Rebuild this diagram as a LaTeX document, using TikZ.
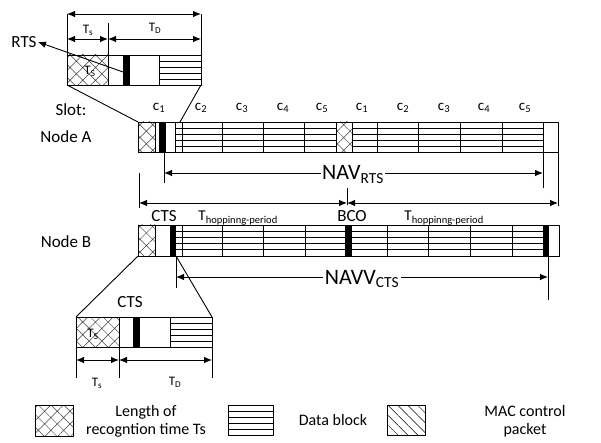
\documentclass[tikz,border=0pt]{standalone}
\usepackage{fontspec}
\setmainfont{Carlito}
\usetikzlibrary{arrows.meta,patterns.meta}
% four stripes of a data block: x1, x2, ytop, ybot
\newcommand\datastripes[4]{%
  \foreach \k in {1,...,4}
    \draw ({#1},{#3+\k*(#4-#3)/5}) -- ({#2},{#3+\k*(#4-#3)/5});}
\begin{document}
\begin{tikzpicture}[x=1pt,y=-1pt,>={Latex[length=8pt,width=6.5pt]},line width=0.9pt,line join=round,
  lab/.style={font=\fontsize{17}{19}\selectfont,inner sep=1pt},
  navlab/.style={font=\fontsize{22}{24}\selectfont,inner sep=1pt},
  slotlab/.style={font=\fontsize{15}{17}\selectfont,inner sep=0pt},
  dimlab/.style={font=\fontsize{13}{15}\selectfont,inner sep=0pt},
  keylab/.style={font=\fontsize{16}{18}\selectfont,align=center,inner sep=0pt},
  hatched/.style={pattern={Hatch[angle=45,distance=9pt,line width=0.5pt]},pattern color=black!75},
  maclines/.style={pattern={Lines[angle=-45,distance=7pt,line width=0.5pt]}}]
	\useasboundingbox (0,0) rectangle (601,443);
	% RTS inset
	\draw[hatched] (67,55) rectangle (108,85);
	\fill (123,55) rectangle (130,85);
	\datastripes{159}{201}{55}{85}
	\draw (67,55) rectangle (201,85);
	\draw (108,55)--(108,85) (159,55)--(159,85);
	\draw (67,85)--(67,14) (201,85)--(201,14) (108,55)--(108,23);
	\draw[<->] (67,14)--(201,14);
	\draw[<->] (67,39)--(108,39);
	\draw[<->] (108,39)--(201,39);
	\node[dimlab] (tsa) at (88,30) {T\textsubscript{s}};
	\node[dimlab] (tda) at (155,28) {T\textsubscript{D}};
	\node[dimlab] (tsin) at (90,71) {T\textsubscript{S}};
	\node[lab] (rts) at (24,42) {RTS};
	\coordinate (rtsfoot) at (123,72);
	\draw[->] (rtsfoot)--(rts.east);
	\draw (67,85)--(138,122) (201,85)--(180,122);
	% slots
	\node[lab] (slot) at (71,110) {Slot:};
	\foreach \x/\c [count=\i] in {159/1,201/2,242/3,283/4,322/5,362/1,403/2,444/3,484/4,525/5}
		\node[slotlab] (c\i) at (\x,108) {c\textsubscript{\c}};
	% node A
	\node[lab] (nodeA) at (66,137) {Node A};
	\draw[hatched] (138,122) rectangle (155,152);
	\fill (159,122) rectangle (166,152);
	\datastripes{175}{336}{122}{152}
	\draw[hatched] (336,122) rectangle (352,152);
	\datastripes{352}{543}{122}{152}
	\foreach \x in {155,175,182,222,263,304,377,418,460,502,543}
		\draw (\x,122)--(\x,152);
	\draw (138,122) rectangle (558,152);
	% NAV of RTS
	\draw (164,152)--(164,183);
	\draw (543,152)--(543,188);
	\coordinate (navy) at (0,173);
	\node[navlab,anchor=base] (navrts) at (353,180) {NAV\textsubscript{RTS}};
	\draw[->] (navrts.west |- navy)--(164,173);
	\draw[->] (navrts.east |- navy)--(543,173);
	% hopping periods
	\draw (139,173)--(139,208);
	\draw (558,152)--(558,206);
	\draw (347,188)--(347,205);
	\draw[<->] (139,203)--(347,203);
	\draw[<->] (347,203)--(558,203);
	\node[lab] (ctsb) at (164,216) {CTS};
	\node[slotlab,anchor=west] (thopa) at (198,218) {T\textsubscript{hoppinng-period}};
	\node[lab] (bco) at (352,216) {BCO};
	\node[slotlab,anchor=west] (thopb) at (404,218) {T\textsubscript{hoppinng-period}};
	% node B
	\node[lab] (nodeB) at (66,242) {Node B};
	\draw[hatched] (138,225) rectangle (155,256);
	\datastripes{176}{543}{225}{256}
	\fill (170,225) rectangle (176,256);
	\fill (345,225) rectangle (352,256);
	\fill (543,225) rectangle (549,256);
	\foreach \x in {155,182,222,263,305,387,428,470,512}
		\draw (\x,225)--(\x,256);
	\draw (138,225) rectangle (559,256);
	% NAV of CTS
	\draw (176,256)--(176,288);
	\draw (548,256)--(548,300);
	\coordinate (navvy) at (0,277);
	\node[navlab,anchor=base] (navcts) at (362,284) {NAVV\textsubscript{CTS}};
	\draw[->] (navcts.west |- navvy)--(176,277);
	\draw[->] (navcts.east |- navvy)--(548,277);
	% CTS inset
	\draw (138,256)--(76,317) (176,256)--(212,317);
	\node[lab] (ctsc) at (130,302) {CTS};
	\draw[hatched] (76,317) rectangle (119,347);
	\fill (133,317) rectangle (140,347);
	\datastripes{170}{212}{317}{347}
	\draw (76,317) rectangle (212,347);
	\draw (119,317)--(119,347) (170,317)--(170,347);
	\node[dimlab] (tsc) at (93,334) {T\textsubscript{S}};
	\draw (76,347)--(76,378) (119,347)--(119,378) (212,347)--(212,378);
	\draw[<->] (76,360)--(119,360);
	\draw[<->] (119,360)--(212,360);
	\node[dimlab] (tsb) at (97,383) {T\textsubscript{s}};
	\node[dimlab] (tdb) at (175,382) {T\textsubscript{D}};
	% legend
	\draw[hatched] (35,405) rectangle (73,436);
	\node[keylab] (keyts) at (146,421) {Length of\\recogntion time Ts};
	\datastripes{228}{273}{405}{435}
	\draw (228,405) rectangle (273,435);
	\node[keylab] (keydata) at (333,420) {Data block};
	\draw[maclines] (387,405) rectangle (425,435);
	\node[keylab] (keymac) at (525,421) {MAC control\\packet};
\end{tikzpicture}
\end{document}
